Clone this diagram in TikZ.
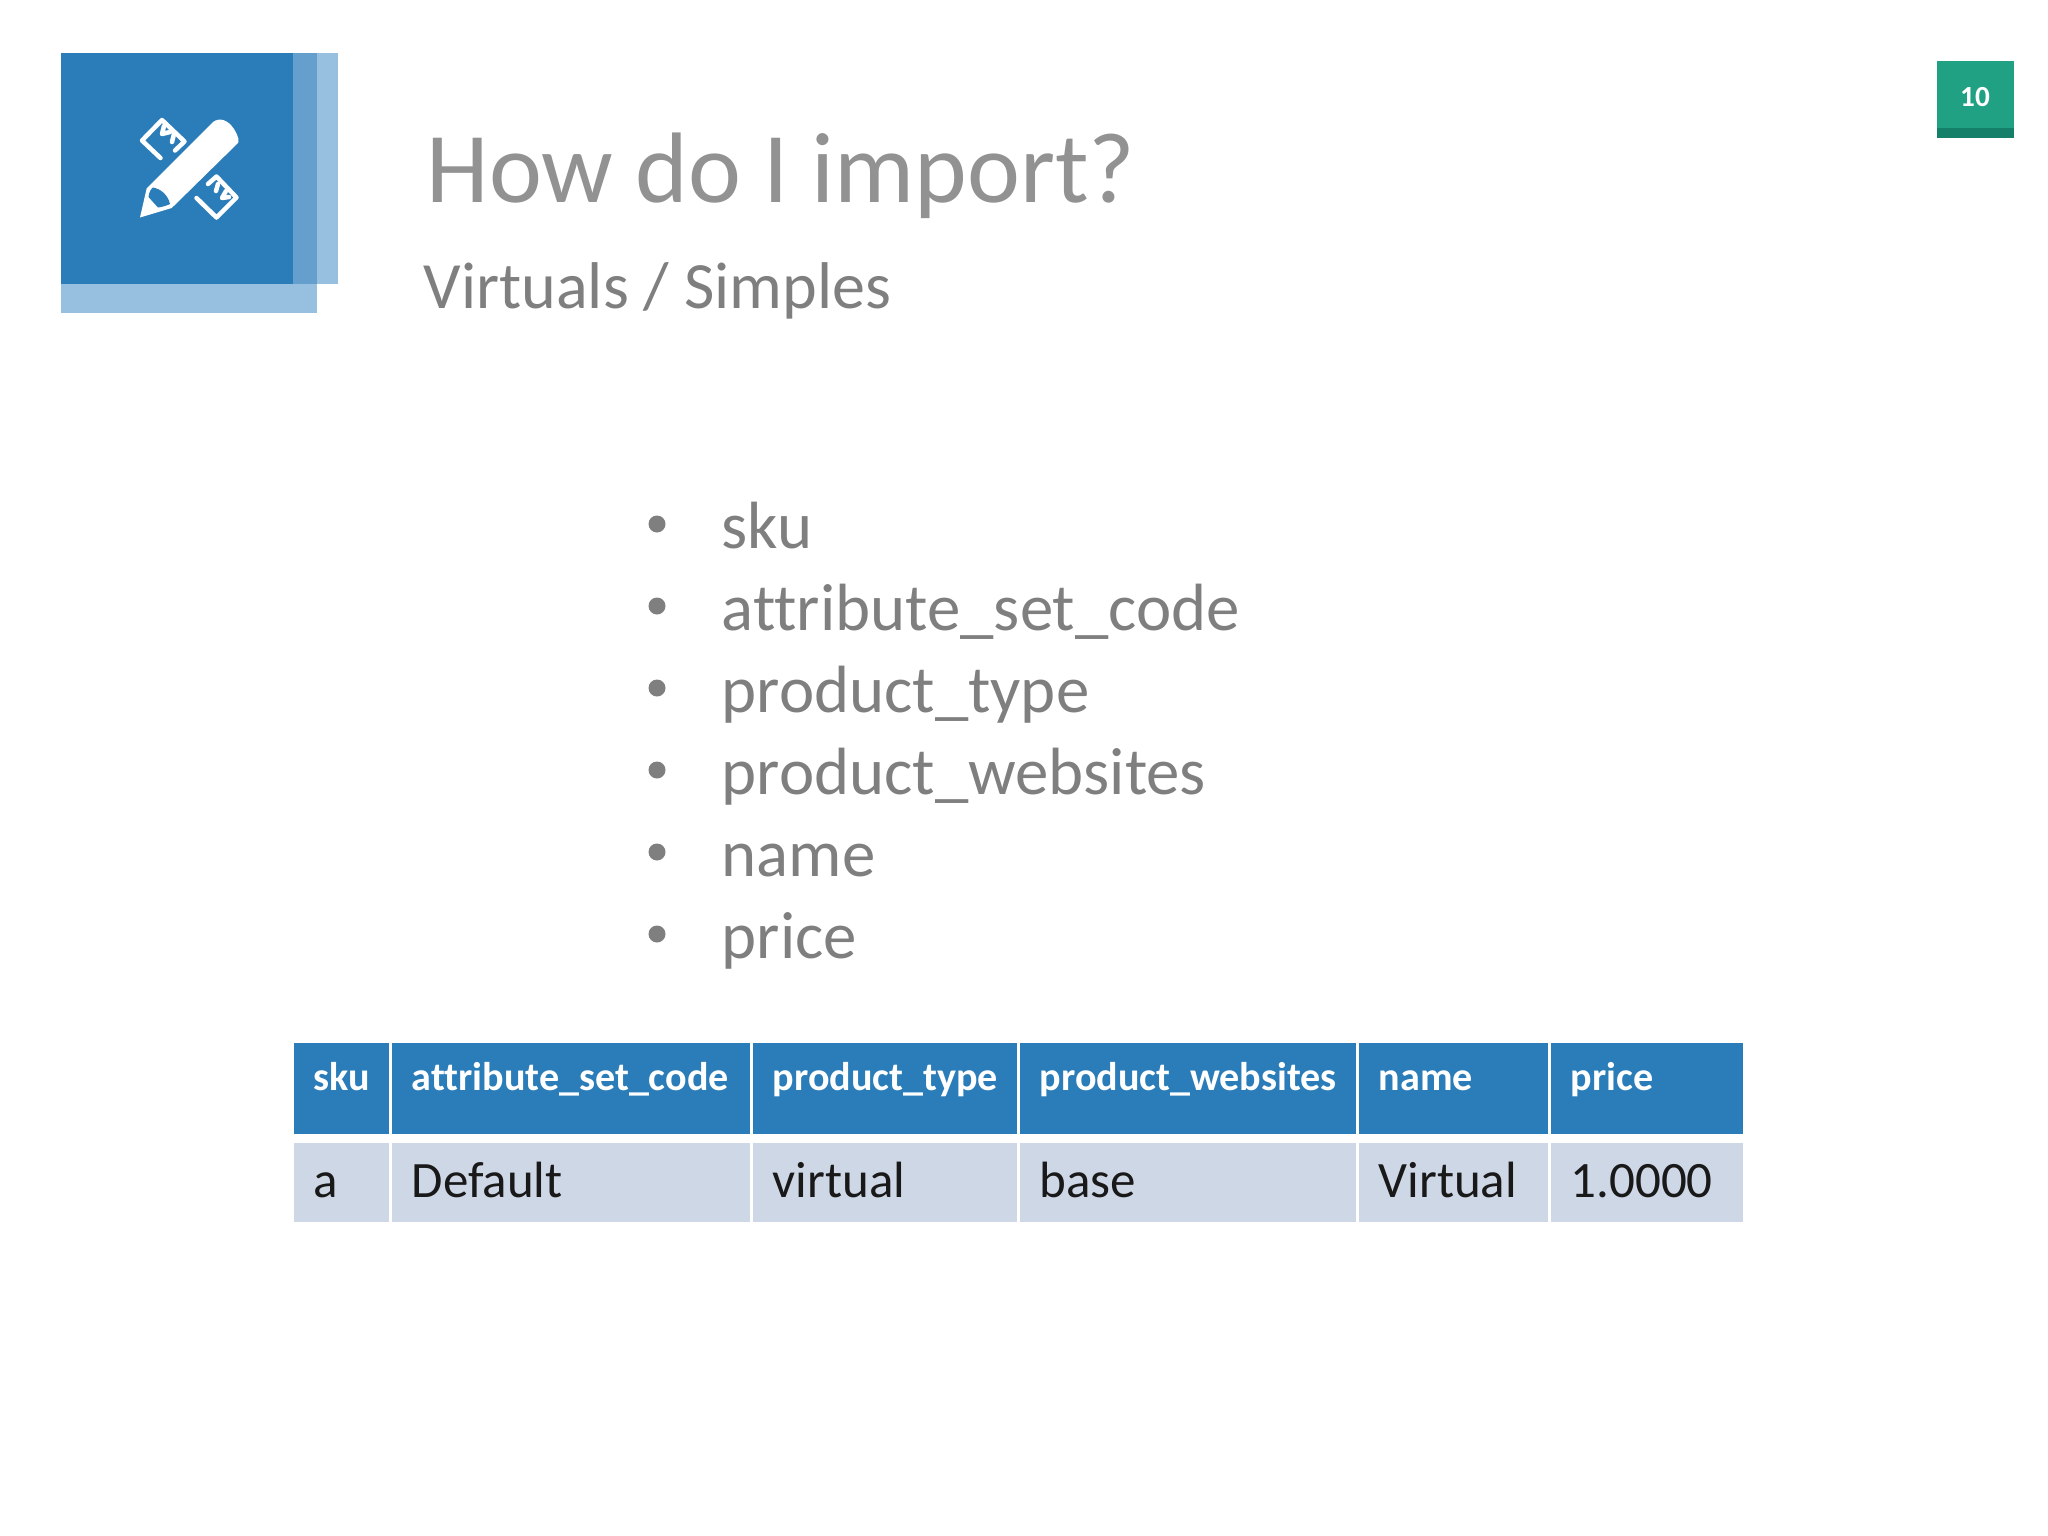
\documentclass[tikz,border=0pt]{standalone}
\usepackage{fontspec}
\setmainfont[Ligatures=NoCommon]{Carlito}
\usetikzlibrary{positioning,calc}
\definecolor{iconblue}{HTML}{2A7DB8}
\definecolor{bandlight}{HTML}{97BFDF}
\definecolor{bandmid}{HTML}{649FCD}
\definecolor{badgegreen}{HTML}{21A183}
\definecolor{badgedark}{HTML}{15806A}
\definecolor{rowfill}{HTML}{CDD7E6}
\definecolor{slidegrey}{HTML}{7F7F7F}
\tikzstyle{headcell} = [rectangle, fill=iconblue, text=white, anchor=north west, inner xsep=0.2cm, inner ysep=0pt, text height=0.48cm, text depth=0.43cm, font=\fontsize{11.4}{13}\selectfont\bfseries]
\tikzstyle{rowcell} = [rectangle, fill=rowfill, text=black!90, anchor=north west, inner xsep=0.2cm, inner ysep=0pt, text height=0.55cm, text depth=0.24cm, font=\fontsize{14.5}{16}\selectfont]
\tikzstyle{item} = [anchor=base west, inner sep=0pt, text=slidegrey, font=\fontsize{19}{21}\selectfont]
\tikzstyle{dot} = [circle, fill=slidegrey, inner sep=0pt, minimum size=0.17cm]
\tikzstyle{rulerline} = [white, line width=0.045cm, line cap=round, line join=round]
\begin{document}
\begin{tikzpicture}[x=0.01cm, y=-0.01cm]
    \useasboundingbox (0,0) rectangle (2048,1536);
    % icon block
    \fill[bandlight] (293,53) rectangle (338,284);
    \fill[bandlight] (61,284) rectangle (317,313);
    \fill[bandmid] (293,53) rectangle (317,284);
    \fill[iconblue] (61,53) rectangle (293,284);
    % pencil
    \fill[white] (140,217.5) -- (146.7,188.3) -- (213,122) .. controls (220,117) and (228,120) .. (234,129) .. controls (239,137) and (239,141) .. (238,143) -- (171.7,208) -- cycle;
    \fill[iconblue] (148.5,197) .. controls (149,192) and (151,189) .. (153,187.5) .. controls (161,189) and (168,195) .. (170,204) .. controls (166,206) and (162,207) .. (158,207.5) -- cycle;
    % ruler
    \draw[rulerline] (160.5,158) -- (142,140.5) -- (162,120) -- (184.5,141.5) -- (175,150.5);
    \draw[rulerline] (164,126) -- (162,134) -- (170,132);
    \draw[rulerline] (174,134) -- (172,142);
    \draw[rulerline] (196.5,198) -- (216.5,217.5) -- (236.5,197.5) -- (216.5,176.5) -- (208,184);
    \draw[rulerline] (218,184) -- (216,191);
    \draw[rulerline] (226,191) -- (222,198) -- (229,197);
    % title
    \node[anchor=base west, inner sep=0pt, text=slidegrey!85, font=\fontsize{28.5}{32}\selectfont] (title) at (426,202) {How do I import?};
    \node[anchor=base west, inner sep=0pt, text=slidegrey, font=\fontsize{18.8}{21}\selectfont] (subtitle) at (423,308) {Virtuals / Simples};
    % page badge
    \fill[badgegreen] (1937,61) rectangle (2014,128);
    \fill[badgedark] (1937,128) rectangle (2014,138);
    \node[text=white, font=\fontsize{8.3}{10}\selectfont\bfseries] (page) at (1975,97) {10};
    % list
    \node[item] (sku) at (721,548) {sku};
    \node[item] (setcode) at (721,630) {attribute\_set\_code};
    \node[item] (type) at (721,712) {product\_type};
    \node[item] (websites) at (721,794) {product\_websites};
    \node[item] (name) at (721,876) {name};
    \node[item] (price) at (721,958) {price};
    \node[dot] (dot1) at (657,524) {};
    \node[dot] (dot2) at (657,606) {};
    \node[dot] (dot3) at (657,688) {};
    \node[dot] (dot4) at (657,770) {};
    \node[dot] (dot5) at (657,852) {};
    \node[dot] (dot6) at (657,934) {};
    % table
    \node[headcell, text width=0.55cm] (hsku) at (293,1042) {sku};
    \node[headcell, text width=3.18cm] (hcode) at (391,1042) {attribute\_set\_code};
    \node[headcell, text width=2.24cm] (htype) at (752,1042) {product\_type};
    \node[headcell, text width=2.96cm] (hsite) at (1019,1042) {product\_websites};
    \node[headcell, text width=1.49cm] (hname) at (1358,1042) {name};
    \node[headcell, text width=1.52cm] (hprice) at (1550,1042) {price};
    \node[rowcell, text width=0.55cm] (rsku) at (293,1142) {a};
    \node[rowcell, text width=3.18cm] (rcode) at (391,1142) {Default};
    \node[rowcell, text width=2.24cm] (rtype) at (752,1142) {virtual};
    \node[rowcell, text width=2.96cm] (rsite) at (1019,1142) {base};
    \node[rowcell, text width=1.49cm] (rname) at (1358,1142) {Virtual};
    \node[rowcell, text width=1.52cm] (rprice) at (1550,1142) {1.0000};
\end{tikzpicture}
\end{document}
